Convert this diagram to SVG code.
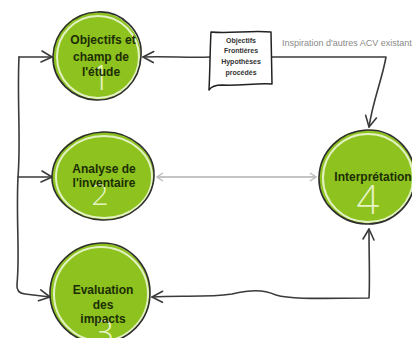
<svg xmlns="http://www.w3.org/2000/svg" width="412" height="338" viewBox="0 0 412 338">
  <defs>
    <style>
      .wire { fill: none; stroke: #3a3a3a; stroke-width: 1.6; stroke-linecap: round; stroke-linejoin: round; }
      .soft { fill: none; stroke: #c4c4c4; stroke-width: 2; }
      .disc { fill: #8dc21f; }
      .glow { fill: none; stroke: #f2f9e0; stroke-width: 2; opacity: 0.85; }
      .rim { fill: none; stroke: #2e2e2e; stroke-width: 1.6; stroke-linejoin: round; }
      .lbl { font-family: "Liberation Sans", Arial, sans-serif; font-weight: bold; font-size: 12px; fill: #1c2e04; text-anchor: middle; }
      .num { font-family: "Open Sans", "DejaVu Sans", sans-serif; font-weight: 300; fill: #e6f3c4; text-anchor: middle; }
      .doc { font-family: "Liberation Sans", Arial, sans-serif; font-weight: bold; font-size: 7px; fill: #333; text-anchor: middle; }
      .note { font-family: "Liberation Sans", Arial, sans-serif; font-size: 9px; fill: #8a8a8a; }
    </style>
    <marker id="ah" viewBox="-13 -8 15 16" markerWidth="15" markerHeight="16" refX="0" refY="0" orient="auto-start-reverse" markerUnits="userSpaceOnUse">
      <path d="M-10,-6 L0,0 L-11,5" fill="none" stroke="#3a3a3a" stroke-width="1.6" stroke-linecap="round" stroke-linejoin="round"/>
    </marker>
    <marker id="ahSoft" viewBox="-8 -5 10 10" markerWidth="10" markerHeight="10" refX="0" refY="0" orient="auto-start-reverse" markerUnits="userSpaceOnUse">
      <path d="M-6,-4 L0,0 L-6,4" fill="none" stroke="#bdbdbd" stroke-width="1.5"/>
    </marker>
  </defs>

  <rect width="412" height="338" fill="#ffffff"/>

  <!-- connectors -->
  <g id="connectors">
    <!-- left feedback rail with its three branches -->
    <path class="wire" d="M19,57 C17,100 21,140 18,177 C16,220 20,255 17,284 Q16,293 25,294 L50,297" marker-end="url(#ah)"/>
    <path class="wire" d="M19,57 L52,57" marker-end="url(#ah)"/>
    <path class="wire" d="M18,177 L52,177" marker-end="url(#ah)"/>
    <!-- document to step 1 -->
    <path class="wire" d="M210,57 C190,58 165,56 143,57" marker-end="url(#ah)"/>
    <!-- document to step 4 -->
    <path class="wire" d="M272,57 L386,57 C382,80 373,100 369,127" marker-end="url(#ah)"/>
    <!-- step 2 / step 4 exchange -->
    <path class="soft" d="M157,177 L316,177" marker-start="url(#ahSoft)" marker-end="url(#ahSoft)"/>
    <!-- step 3 / step 4 loop -->
    <path class="wire" d="M152,297 C180,295 205,298 232,294 C250,290 262,289 276,295 C292,300 330,298 369,298 C370,280 369,258 369,229" marker-start="url(#ah)" marker-end="url(#ah)"/>
  </g>

  <!-- document: goals / boundaries / hypotheses / processes -->
  <g id="document">
    <path d="M211,32 C230,34 250,30 271,32 L272,84 C255,83 240,86 222,85 C215,85 211,87 209,90 C210,70 210,50 211,32 Z" fill="#ffffff" stroke="#222" stroke-width="1.5" stroke-linejoin="round"/>
    <text class="doc" x="241" y="43">Objectifs</text>
    <text class="doc" x="241" y="53">Frontières</text>
    <text class="doc" x="241" y="64">Hypothèses</text>
    <text class="doc" x="241" y="75">procédés</text>
  </g>

  <text id="note" class="note" x="282" y="46">Inspiration d'autres ACV existantes</text>

  <!-- step 1 -->
  <g id="step1">
    <ellipse class="disc" cx="97" cy="56" rx="44" ry="44"/>
    <ellipse class="glow" cx="98" cy="57" rx="41" ry="41"/>
    <text class="num" x="101" y="90" font-size="34">1</text>
    <path class="rim" d="M97,12 C121,10 143,31 141,56 C140,81 121,101 96,100 C72,99 52,80 53,56 C54,33 72,13 97,12 Z"/>
    <text class="lbl" x="103" y="44">Objectifs et</text>
    <text class="lbl" x="101" y="61">champ de</text>
    <text class="lbl" x="101" y="76">l'étude</text>
  </g>

  <!-- step 2 -->
  <g id="step2">
    <ellipse class="disc" cx="103" cy="176" rx="51" ry="44"/>
    <ellipse class="glow" cx="104" cy="177" rx="48" ry="41"/>
    <text class="num" x="100" y="205" font-size="30">2</text>
    <path class="rim" d="M103,132 C131,131 155,152 154,176 C153,201 130,221 102,220 C75,219 51,199 52,176 C53,152 76,133 103,132 Z"/>
    <text class="lbl" x="104" y="173">Analyse de</text>
    <text class="lbl" x="104" y="187">l'inventaire</text>
  </g>

  <!-- step 3 -->
  <g id="step3">
    <ellipse class="disc" cx="100" cy="293" rx="50" ry="50"/>
    <ellipse class="glow" cx="101" cy="294" rx="47" ry="47"/>
    <text class="num" x="104" y="346" font-size="36">3</text>
    <path class="rim" d="M101,243 C128,242 150,265 150,293 C150,320 128,343 100,343 C72,343 50,320 50,293 C50,266 73,244 101,243 Z"/>
    <text class="lbl" x="103" y="294">Evaluation</text>
    <text class="lbl" x="103" y="309">des</text>
    <text class="lbl" x="103" y="323">impacts</text>
  </g>

  <!-- step 4 -->
  <g id="step4">
    <ellipse class="disc" cx="367" cy="177" rx="48" ry="47"/>
    <ellipse class="glow" cx="368" cy="178" rx="45" ry="44"/>
    <text class="num" x="368" y="214" font-size="40">4</text>
    <path class="rim" d="M367,130 C394,129 415,151 415,177 C415,203 393,225 366,224 C340,223 318,203 319,177 C320,151 341,131 367,130 Z"/>
    <text class="lbl" x="373" y="181">Interprétation</text>
  </g>
</svg>
